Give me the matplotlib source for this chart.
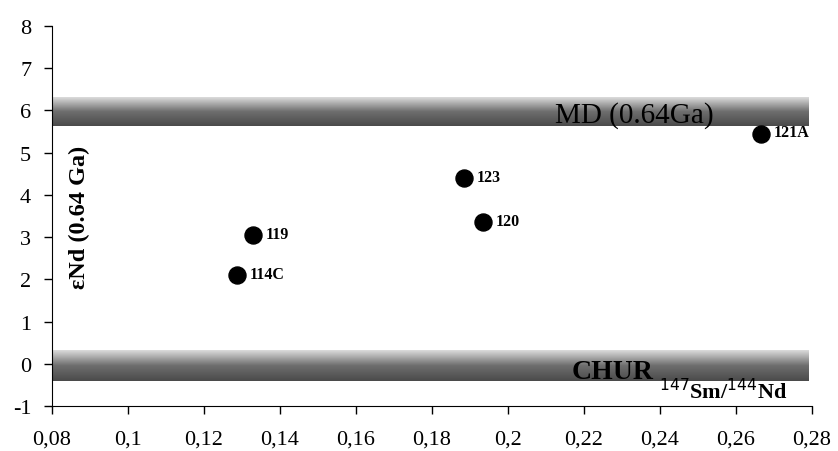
import numpy as np
import matplotlib
matplotlib.use('Agg')
import matplotlib.pyplot as plt
from matplotlib.colors import LinearSegmentedColormap

plt.rcParams['font.family'] = ['Liberation Serif', 'DejaVu Serif']
plt.rcParams['axes.unicode_minus'] = False

# 样品数据
samples = ['114C', '119', '123', '120', '121A']
sm_nd = [0.1287, 0.1329, 0.1884, 0.1935, 0.2666]
eps_nd = [2.10, 3.05, 4.39, 3.35, 5.45]

# 参考带 (MD 0.64Ga, CHUR)
md_band = [5.62, 6.30]
chur_band = [-0.40, 0.31]
band_x = [0.08, 0.279]

xticks = [0.08, 0.1, 0.12, 0.14, 0.16, 0.18, 0.2, 0.22, 0.24, 0.26, 0.28]
xticklabels = ['0,08', '0,1', '0,12', '0,14', '0,16', '0,18', '0,2', '0,22', '0,24', '0,26', '0,28']
yticks = list(range(-1, 9))

fig = plt.figure(figsize=(8.38, 4.52), dpi=100)
ax = fig.add_axes([52 / 838, 1 - 407.3 / 452, 760 / 838, (407.3 - 26.7) / 452])

cmap = LinearSegmentedColormap.from_list('band', ['#4a4a4a', '#6e6e6e', '#dcdcdc'])
grad = np.linspace(0, 1, 256).reshape(-1, 1)
for lo, hi in [md_band, chur_band]:
    ax.imshow(grad, extent=[band_x[0], band_x[1], lo, hi], origin='lower',
              aspect='auto', cmap=cmap, zorder=1)

ax.scatter(sm_nd, eps_nd, s=150, color='black', zorder=3)
for name, x, y in zip(samples, sm_nd, eps_nd):
    ax.text(x + 0.0033, y + 0.03, name, fontsize=11.5, fontweight='bold', va='center', zorder=4)

ax.text(0.2332, 5.91, 'MD (0.64Ga)', fontsize=21, ha='center', va='center', zorder=4)
ax.text(0.2276, -0.17, 'CHUR', fontsize=20, fontweight='bold', ha='center', va='center', zorder=4)
ax.text(0.2566, -0.64, r'$^{147}$Sm/$^{144}$Nd', fontsize=16, fontweight='bold',
        ha='center', va='center', zorder=4)
ax.text(0.0871, 3.5, 'εNd (0.64 Ga)', fontsize=17.5, fontweight='bold',
        rotation=90, ha='center', va='center', zorder=4)

ax.set_xlim(0.08, 0.28)
ax.set_ylim(-1, 8)
ax.set_xticks(xticks)
ax.set_xticklabels(xticklabels)
ax.set_yticks(yticks)
ax.tick_params(direction='out', length=6, width=1, labelsize=16, colors='black')
ax.tick_params(axis='x', pad=11)
ax.tick_params(axis='y', pad=9)
ax.spines['top'].set_visible(False)
ax.spines['right'].set_visible(False)

plt.savefig('out.png', dpi=100)
